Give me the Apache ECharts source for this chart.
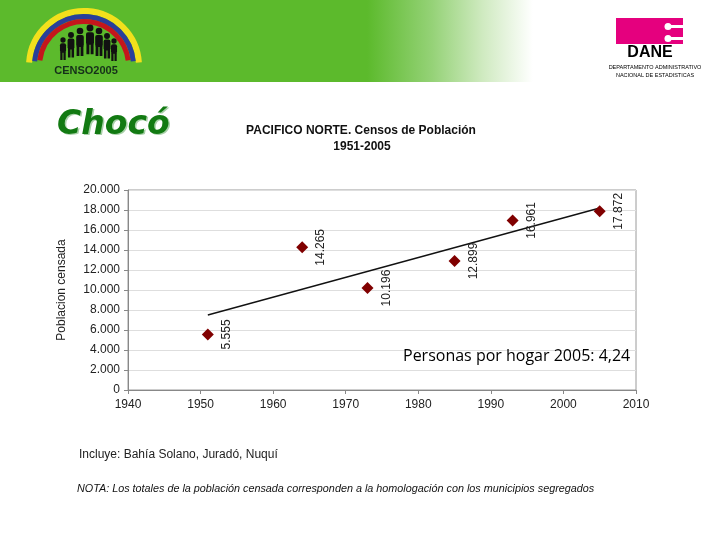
<!DOCTYPE html>
<html>
<head>
<meta charset="utf-8">
<script src="https://cdn.jsdelivr.net/npm/echarts@6/dist/echarts.min.js"></script>
<style>html,body{margin:0;padding:0;background:#fff}#c{width:720px;height:540px}</style>
</head>
<body>
<div id="c"></div>
<script>
// Data
var years = [1951, 1964, 1973, 1985, 1993, 2005];
var population = [5555, 14265, 10196, 12899, 16961, 17872];
var trendYears = [1951, 2005];
var trendValues = [7500, 18200];
var xTicks = [1940, 1950, 1960, 1970, 1980, 1990, 2000, 2010];
var yTicks = [0, 2000, 4000, 6000, 8000, 10000, 12000, 14000, 16000, 18000, 20000];

function fmt(v) {
  var s = String(Math.round(v));
  if (s.length > 3) s = s.slice(0, s.length - 3) + '.' + s.slice(s.length - 3);
  return s;
}

var chart = echarts.init(document.getElementById('c'), null, {renderer: 'canvas'});

var people = [];
var figs = [[63,40,0.8],[71,35,0.9],[80,31,1],[90,28,1.05],[99,31,1],[107,36,0.9],[114,41,0.8]];
figs.forEach(function (f) {
  var x = f[0], y = f[1], s = f[2];
  people.push({type: 'circle', shape: {cx: x, cy: y, r: 3.3 * s}, style: {fill: '#111'}});
  people.push({type: 'rect', shape: {x: x - 3.8 * s, y: y + 4 * s, width: 7.6 * s, height: 12 * s, r: 2}, style: {fill: '#111'}});
  people.push({type: 'rect', shape: {x: x - 3.4 * s, y: y + 15 * s, width: 2.8 * s, height: 10 * s}, style: {fill: '#111'}});
  people.push({type: 'rect', shape: {x: x + 0.6 * s, y: y + 15 * s, width: 2.8 * s, height: 10 * s}, style: {fill: '#111'}});
});

var graphics = [
  {type: 'rect', shape: {x: 0, y: 0, width: 720, height: 82}, style: {
    fill: new echarts.graphic.LinearGradient(0, 0, 1, 0, [
      {offset: 0, color: '#5cba2c'}, {offset: 0.51, color: '#5cba2c'},
      {offset: 0.6, color: '#95d277'}, {offset: 0.67, color: '#cfeac0'},
      {offset: 0.74, color: '#ffffff'}, {offset: 1, color: '#ffffff'}])
  }},
  // rainbow
  {type: 'arc', shape: {cx: 84, cy: 66, r: 55, startAngle: Math.PI * 1.02, endAngle: Math.PI * 1.98}, style: {stroke: '#f2e01c', lineWidth: 6, fill: null}},
  {type: 'arc', shape: {cx: 84, cy: 66, r: 49.5, startAngle: Math.PI * 1.03, endAngle: Math.PI * 1.97}, style: {stroke: '#2a3f9a', lineWidth: 5, fill: null}},
  {type: 'arc', shape: {cx: 84, cy: 66, r: 44.5, startAngle: Math.PI * 1.04, endAngle: Math.PI * 1.96}, style: {stroke: '#c4161c', lineWidth: 5, fill: null}}
].concat(people).concat([
  {type: 'text', x: 86, y: 71, style: {text: 'CENSO2005', font: 'bold 11px "Liberation Sans Narrow", "Liberation Sans", sans-serif', fill: '#16301a', textAlign: 'center', textVerticalAlign: 'middle'}},
  // DANE logo
  {type: 'rect', shape: {x: 616, y: 18, width: 67, height: 26}, style: {fill: '#e5007e'}},
  {type: 'rect', shape: {x: 667, y: 25, width: 16, height: 3}, style: {fill: '#fff'}},
  {type: 'rect', shape: {x: 667, y: 37, width: 16, height: 3}, style: {fill: '#fff'}},
  {type: 'circle', shape: {cx: 668, cy: 26.5, r: 3.5}, style: {fill: '#fff'}},
  {type: 'circle', shape: {cx: 668, cy: 38.5, r: 3.5}, style: {fill: '#fff'}},
  {type: 'text', x: 650, y: 53, style: {text: 'DANE', font: 'bold 16px "Liberation Sans", Arial, sans-serif', fill: '#000', textAlign: 'center', textVerticalAlign: 'middle'}},
  {type: 'text', x: 655, y: 67, style: {text: 'DEPARTAMENTO ADMINISTRATIVO', font: '5.5px "Liberation Sans", Arial, sans-serif', fill: '#000', textAlign: 'center', textVerticalAlign: 'middle'}},
  {type: 'text', x: 655, y: 75, style: {text: 'NACIONAL DE ESTADISTICAS', font: '5.5px "Liberation Sans", Arial, sans-serif', fill: '#000', textAlign: 'center', textVerticalAlign: 'middle'}},
  // Title Chocó
  {type: 'text', x: 58.5, y: 126.5, style: {text: 'Chocó', font: 'italic bold 33px "DejaVu Sans", sans-serif', fill: '#a8d0a8', textAlign: 'left', textVerticalAlign: 'middle'}},
  {type: 'text', x: 57, y: 125, style: {text: 'Chocó', font: 'italic bold 33px "DejaVu Sans", sans-serif', fill: '#127a12', textAlign: 'left', textVerticalAlign: 'middle'}},
  // chart title
  {type: 'text', x: 361, y: 131, style: {text: 'PACIFICO NORTE. Censos de Población', font: 'bold 12px "Liberation Sans", Arial, sans-serif', fill: '#111', textAlign: 'center', textVerticalAlign: 'middle'}},
  {type: 'text', x: 362, y: 147, style: {text: '1951-2005', font: 'bold 12px "Liberation Sans", Arial, sans-serif', fill: '#111', textAlign: 'center', textVerticalAlign: 'middle'}},
  // note in chart
  {type: 'text', x: 403, y: 356, z: 10, style: {text: 'Personas por hogar 2005: 4,24', font: '16px "Open Sans", sans-serif', fill: '#000', textAlign: 'left', textVerticalAlign: 'middle'}},
  // footnotes
  {type: 'text', x: 79, y: 455, style: {text: 'Incluye: Bahía Solano, Juradó, Nuquí', font: '12px "Liberation Sans", Arial, sans-serif', fill: '#222', textAlign: 'left', textVerticalAlign: 'middle'}},
  {type: 'text', x: 77, y: 489, style: {text: 'NOTA: Los totales de la población censada corresponden a la homologación con los municipios segregados', font: 'italic 10.8px "Liberation Sans", Arial, sans-serif', fill: '#111', textAlign: 'left', textVerticalAlign: 'middle'}}
]);

var option = {
  animation: false,
  backgroundColor: '#fff',
  grid: {left: 128, right: 84, top: 190, bottom: 150, show: true, borderColor: '#9a9a9a', borderWidth: 1, backgroundColor: 'transparent'},
  xAxis: {
    type: 'value', min: xTicks[0], max: xTicks[xTicks.length - 1], interval: 10,
    axisLine: {show: true, lineStyle: {color: '#888'}},
    axisTick: {show: true, length: 4, lineStyle: {color: '#888'}},
    splitLine: {show: false},
    axisLabel: {color: '#222', fontSize: 12, fontFamily: '"Liberation Sans", Arial, sans-serif', margin: 9, formatter: function (v) { return String(v); }}
  },
  yAxis: {
    type: 'value', min: yTicks[0], max: yTicks[yTicks.length - 1], interval: 2000,
    name: 'Poblacion censada', nameLocation: 'middle', nameGap: 60,
    nameTextStyle: {color: '#222', fontSize: 12, fontFamily: '"Liberation Sans", Arial, sans-serif'},
    axisLine: {show: true, lineStyle: {color: '#888'}},
    axisTick: {show: true, length: 4, lineStyle: {color: '#888'}},
    splitLine: {show: true, lineStyle: {color: '#dedede'}},
    axisLabel: {color: '#222', fontSize: 12, fontFamily: '"Liberation Sans", Arial, sans-serif', margin: 8, formatter: fmt}
  },
  series: [
    {
      type: 'line', data: trendYears.map(function (y, i) { return [y, trendValues[i]]; }),
      showSymbol: false, symbol: 'none', lineStyle: {color: '#111', width: 1.3}, silent: true, z: 2
    },
    {
      type: 'scatter', symbol: 'diamond', symbolSize: 12,
      data: years.map(function (y, i) { return [y, population[i]]; }),
      itemStyle: {color: '#800000', opacity: 1}, z: 3,
      label: {
        show: true, position: [25, 6], rotate: 90, align: 'center', verticalAlign: 'middle',
        color: '#222', fontSize: 12, fontFamily: '"Liberation Sans", Arial, sans-serif',
        formatter: function (p) { return fmt(p.value[1]); }
      }
    }
  ],
  graphic: graphics
};
chart.setOption(option);
</script>
</body>
</html>
